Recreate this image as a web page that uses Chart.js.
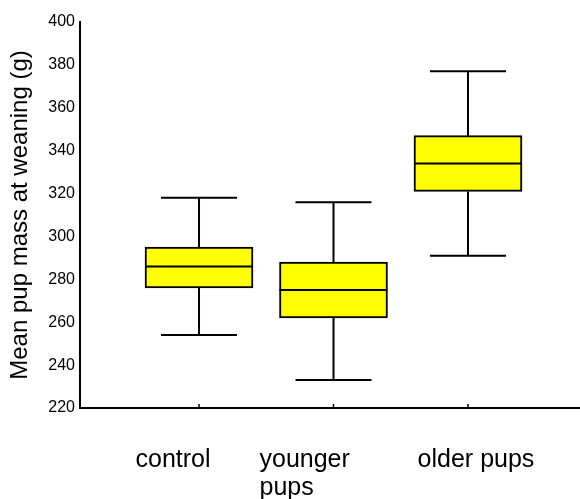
<!DOCTYPE html>
<html>
<head>
<meta charset="utf-8">
<script src="https://cdn.jsdelivr.net/npm/chart.js@4"></script>
<style>
  html, body { margin: 0; padding: 0; background: #fff; }
  #wrap { width: 580px; height: 499px; }
</style>
</head>
<body>
<div id="wrap"><canvas id="myChart"></canvas></div>
<script>
const groups = ['control', 'younger\npups', 'older pups'];
const whiskerLow = [254, 233, 291];
const q1 = [276, 262, 321];
const median = [286, 275, 334];
const q3 = [295, 288, 347];
const whiskerHigh = [318, 316, 377];
const yTicks = [220, 240, 260, 280, 300, 320, 340, 360, 380, 400];

const ctx = document.getElementById('myChart');

// whiskers, medians, inner tick marks and the group names
const boxExtras = {
    id: 'boxExtras',
    afterDatasetsDraw(chart) {
        const c = chart.ctx;
        const x = chart.scales.x;
        const y = chart.scales.y;
        c.save();
        c.strokeStyle = '#000';
        c.lineWidth = 2;
        for (let i = 0; i < groups.length; i++) {
            const px = x.getPixelForValue(i + 1);
            const cap = 38, half = 54;
            c.beginPath();
            // upper whisker
            c.moveTo(px, y.getPixelForValue(q3[i]));
            c.lineTo(px, y.getPixelForValue(whiskerHigh[i]));
            c.moveTo(px - cap, y.getPixelForValue(whiskerHigh[i]));
            c.lineTo(px + cap, y.getPixelForValue(whiskerHigh[i]));
            // lower whisker
            c.moveTo(px, y.getPixelForValue(q1[i]));
            c.lineTo(px, y.getPixelForValue(whiskerLow[i]));
            c.moveTo(px - cap, y.getPixelForValue(whiskerLow[i]));
            c.lineTo(px + cap, y.getPixelForValue(whiskerLow[i]));
            // median
            c.moveTo(px - half, y.getPixelForValue(median[i]));
            c.lineTo(px + half, y.getPixelForValue(median[i]));
            c.stroke();
            // small tick on the x axis, pointing in
            c.lineWidth = 1.5;
            c.beginPath();
            c.moveTo(px, y.bottom);
            c.lineTo(px, y.bottom - 4);
            c.stroke();
            c.lineWidth = 2;
        }
        // group names under the axis
        c.fillStyle = '#000';
        c.font = '25px "Liberation Sans", Arial, sans-serif';
        c.textBaseline = 'alphabetic';
        const offs = [-26, -74, 8];
        const aligns = ['center', 'left', 'center'];
        for (let i = 0; i < groups.length; i++) {
            const px = x.getPixelForValue(i + 1) + offs[i];
            c.textAlign = aligns[i];
            groups[i].split('\n').forEach((line, k) => {
                c.fillText(line, px, y.bottom + 59 + k * 28);
            });
        }
        c.restore();
    }
};

new Chart(ctx, {
    type: 'bar',
    data: {
        datasets: [{
            label: 'box',
            data: groups.map((g, i) => ({ x: i + 1, y: [q1[i], q3[i]] })),
            backgroundColor: '#ffff00',
            borderColor: '#000',
            borderWidth: 2,
            borderSkipped: false,
            barThickness: 108,
        }]
    },
    options: {
        responsive: true,
        maintainAspectRatio: false,
        animation: false,
        layout: {
            padding: { top: 22, right: 0, left: 0, bottom: 0 }
        },
        plugins: {
            legend: { display: false },
            tooltip: { enabled: false }
        },
        scales: {
            x: {
                type: 'linear',
                offset: false,
                min: 0.115,
                max: 3.833,
                grid: { display: false, drawTicks: false },
                border: { display: true, color: '#000', width: 2 },
                ticks: { display: false },
                afterFit: function (scale) { scale.height = 91; }
            },
            y: {
                min: 220,
                max: 400,
                afterBuildTicks: function (scale) {
                    scale.ticks = yTicks.map(v => ({ value: v }));
                },
                grid: { display: false, drawTicks: false },
                border: { display: true, color: '#000', width: 2 },
                ticks: {
                    color: '#000',
                    padding: 5,
                    font: { size: 16, family: '"Liberation Sans", Arial, sans-serif' }
                },
                title: {
                    display: true,
                    text: 'Mean pup mass at weaning (g)',
                    color: '#000',
                    padding: { top: 6, bottom: 0 },
                    font: { size: 24, family: '"Liberation Sans", Arial, sans-serif' }
                },
                afterFit: function (scale) { scale.width = 80; }
            }
        }
    },
    plugins: [boxExtras]
});
</script>
</body>
</html>
